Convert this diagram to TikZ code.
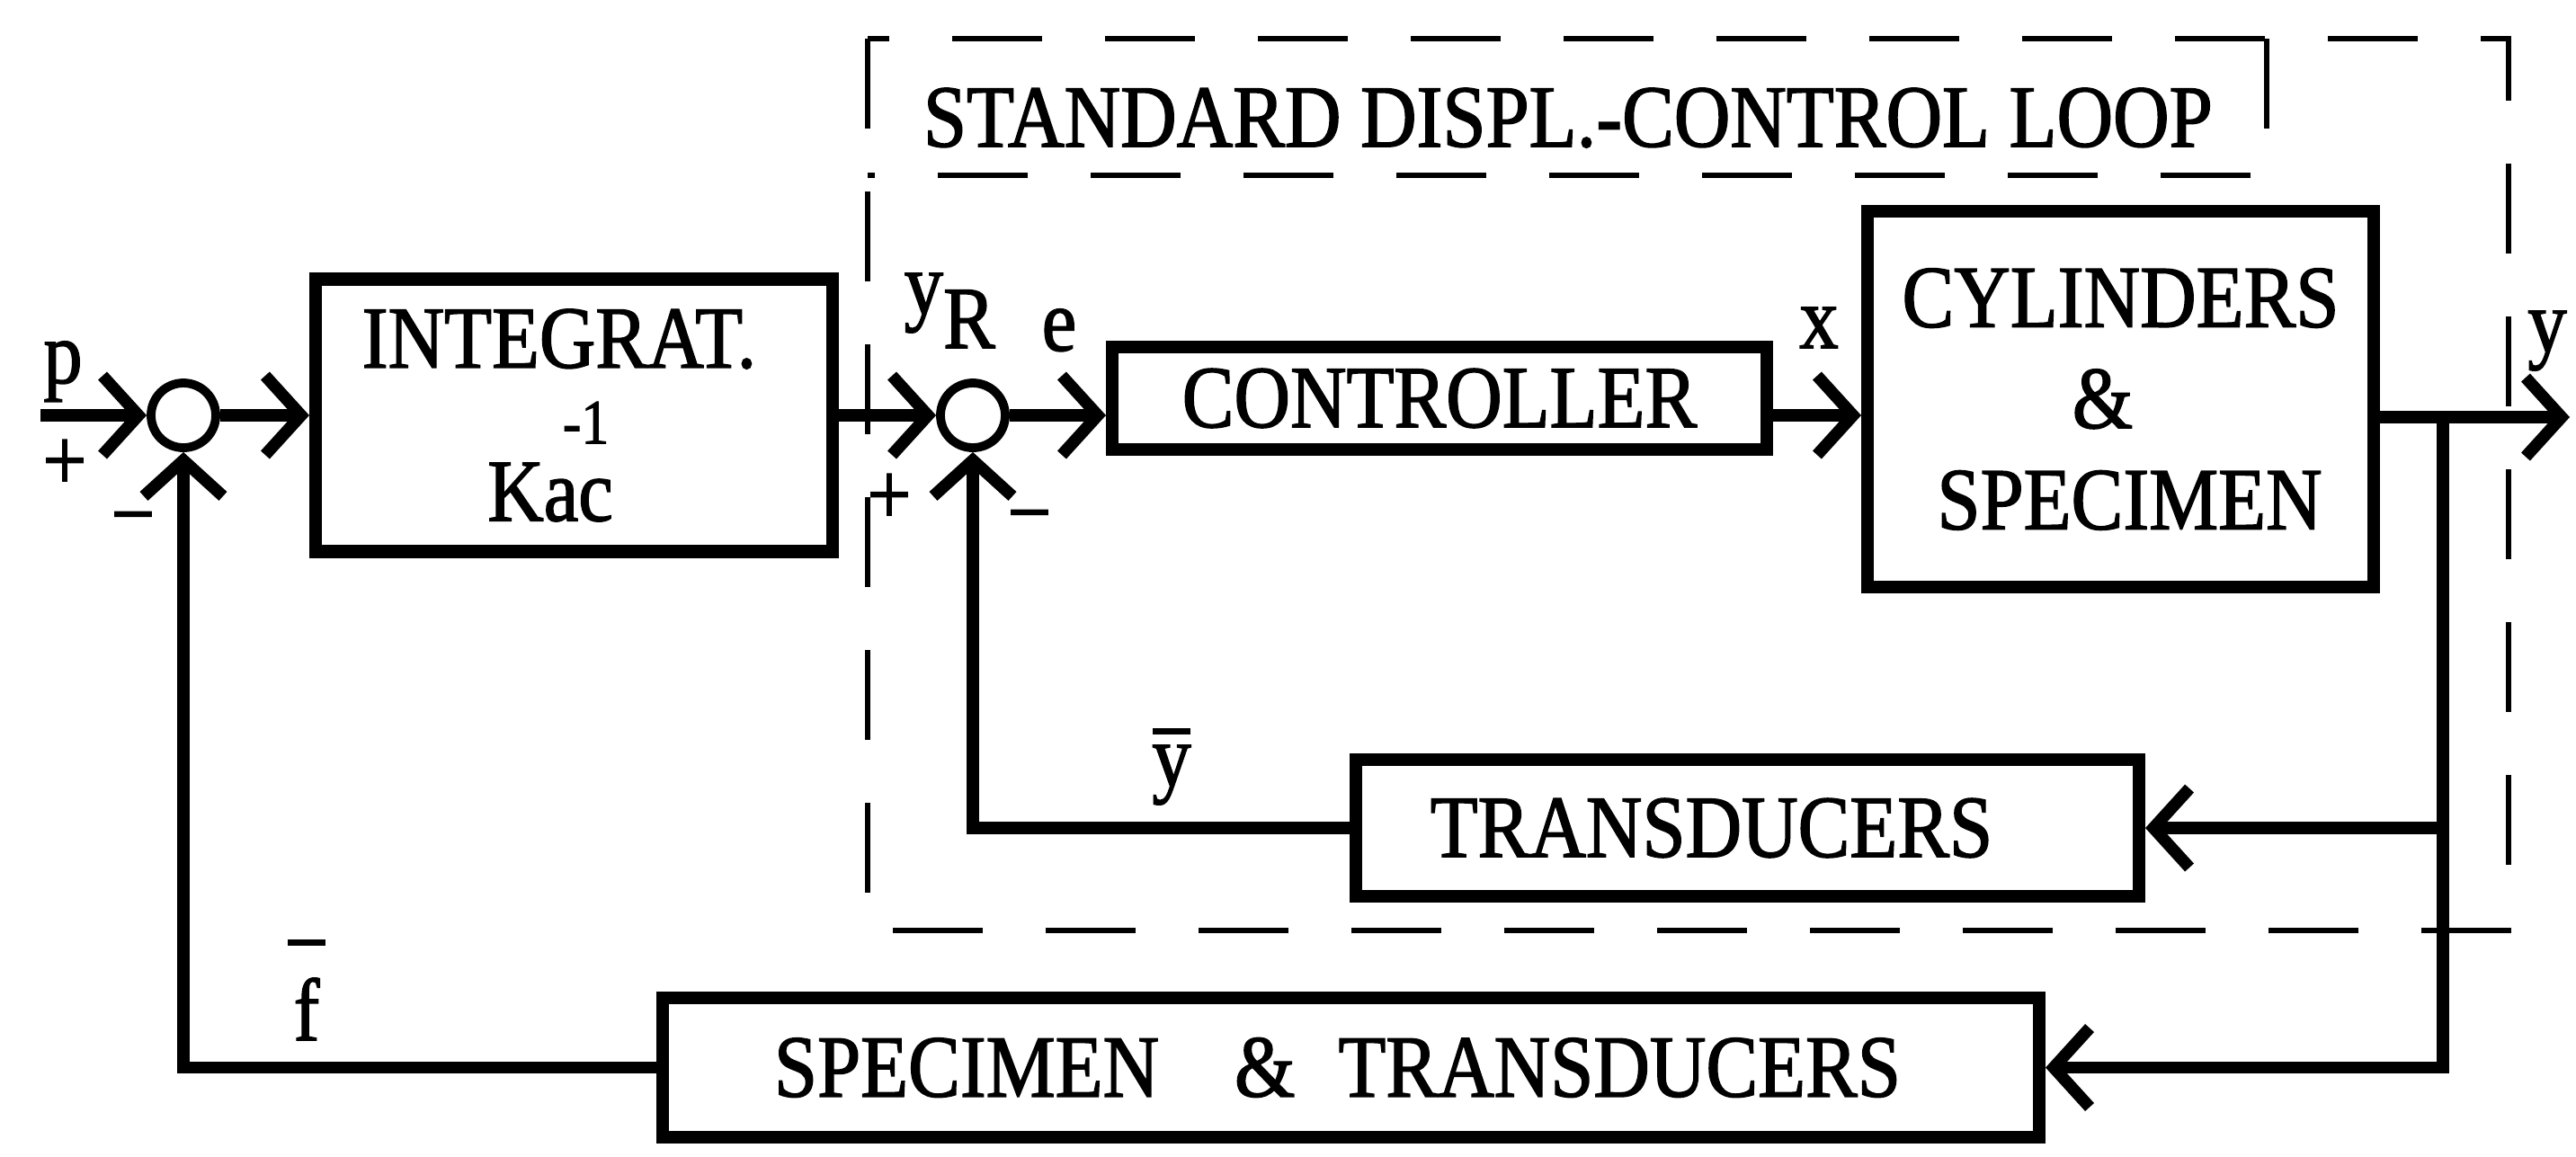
\documentclass[tikz,border=0pt]{standalone}
\usepackage{fontspec}
\setmainfont[FakeStretch=0.88,FakeBold=1.5]{Liberation Serif}
\usetikzlibrary{arrows.meta}
\tikzset{
  blk/.style={draw,line width=4pt,inner sep=0pt,align=center},
  sumnode/.style={draw,circle,line width=2.8pt,minimum size=0.72cm,inner sep=0pt},
  wire/.style={line width=3.8pt},
  arr/.style={wire,-{Straight Barb[length=0.4cm,width=0.88cm]}},
  lbl/.style={inner sep=0pt,anchor=base},
  sgn/.style={inner sep=0pt},
  loopline/.style={line width=1.8pt,dash pattern=on 1cm off 0.7cm}
}
\newcommand{\barred}[2]{\ooalign{\hfil\raisebox{#1}{\rule{0.42cm}{0.07cm}}\hfil\cr\hfil#2\hfil\cr}}
\begin{document}
\begin{tikzpicture}[font=\fontsize{28}{32}\selectfont]
    \useasboundingbox (0,0) rectangle (28.65,-12.86);
    \draw[loopline] (9.65,-0.43) rectangle (27.90,-10.35);
    \draw[loopline] (25.21,-0.43) -- (25.21,-1.95) -- (9.65,-1.95);
    \node[lbl] (title) at (17.44,-1.63) {STANDARD DISPL.-CONTROL LOOP};
    \node[sumnode] (s1) at (2.04,-4.62) {};
    \node[blk,minimum width=5.75cm,minimum height=3.03cm] (integ) at (6.385,-4.62)
        {INTEGRAT.\kern0.33cm\\[0.33cm]\makebox[0pt][l]{\kern0.835cm\raisebox{0.86cm}{\fontsize{20}{20}\selectfont -1}}Kac\kern0.53cm};
    \node[sumnode] (s2) at (10.82,-4.62) {};
    \node[blk,minimum width=7.28cm,minimum height=1.14cm] (ctrl) at (16.01,-4.43) {CONTROLLER};
    \node[blk,minimum width=5.63cm,minimum height=4.18cm] (cyl) at (23.585,-4.44)
        {CYLINDERS\\\&\kern0.4cm\\\kern0.2cm SPECIMEN};
    \node[blk,minimum width=8.71cm,minimum height=1.52cm] (trans) at (19.435,-9.21) {TRANSDUCERS\kern0.8cm};
    \node[blk,minimum width=15.31cm,minimum height=1.55cm] (spectr) at (15.025,-11.875)
        {SPECIMEN\hspace{0.84cm}\&\hspace{0.48cm}TRANSDUCERS\kern0.3cm};
    \coordinate (pin) at (0.45,-4.62);
    \coordinate (br) at (27.17,-4.64);
    \coordinate (yout) at (28.58,-4.64);
    \draw[arr] (pin) -- (s1);
    \draw[arr] (s1) -- (integ);
    \draw[arr] (integ) -- (s2);
    \draw[arr] (s2) -- (s2 -| ctrl.west);
    \draw[arr] (s2 -| ctrl.east) -- (s2 -| cyl.west);
    \draw[wire] (br -| cyl.east) -- (br);
    \draw[arr] (br) -- (yout);
    \draw[arr] (br) |- (trans);
    \draw[arr] (br) |- (spectr);
    \draw[arr] (trans) -| (s2);
    \draw[arr] (spectr) -| (s1);
    \node[lbl] (plbl) at (0.70,-4.26) {p};
    \node[sgn] (s1plus) at (0.72,-5.17) {+};
    \node[sgn] (s1minus) at (1.48,-5.87) {−};
    \node[lbl,anchor=base west] (yrlbl) at (10.05,-3.49) {y\raisebox{-0.38cm}{R}};
    \node[lbl] (elbl) at (11.78,-3.90) {e};
    \node[sgn] (s2plus) at (9.89,-5.55) {+};
    \node[sgn] (s2minus) at (11.45,-5.85) {−};
    \node[lbl] (xlbl) at (20.23,-3.87) {x};
    \node[lbl] (ylbl) at (28.33,-3.91) {y};
    \node[lbl] (ybar) at (13.03,-8.74) {\barred{0.575cm}{y}};
    \node[lbl] (fbar) at (3.41,-11.57) {\barred{1.055cm}{f}};
\end{tikzpicture}
\end{document}
